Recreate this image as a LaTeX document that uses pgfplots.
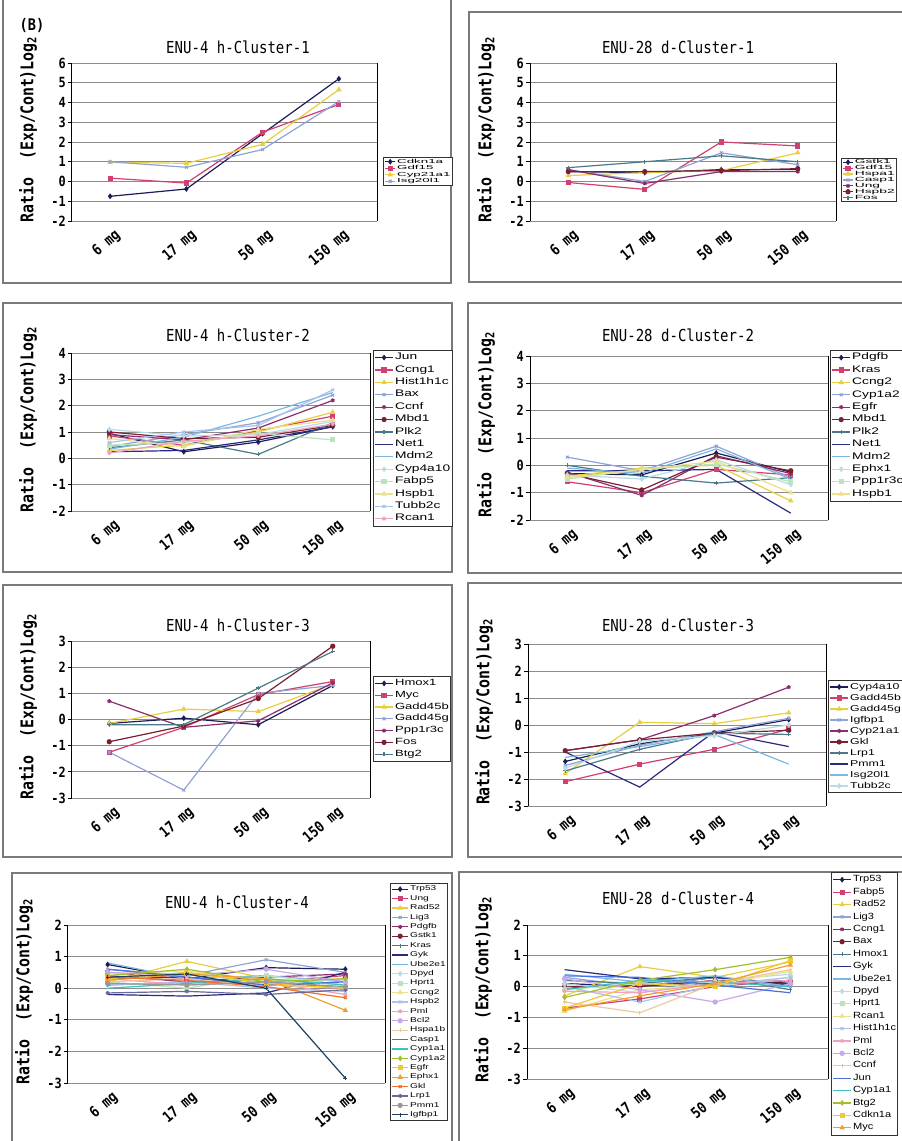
\documentclass[border=0pt]{standalone}
\usepackage{fontspec}
\setmainfont{DejaVu Sans Mono}
\newfontfamily\gf[FakeStretch=0.85]{DejaVu Sans Mono}
\newfontfamily\legA[FakeStretch=2.3]{Liberation Sans}
\newfontfamily\legB[FakeStretch=1.45]{Liberation Sans}
\newfontfamily\legC[FakeStretch=1.23]{Liberation Sans}
\usepackage{pgfplots}
\pgfplotsset{compat=1.18}

% scanned Excel 2003 series colours
\definecolor{c1}{HTML}{1C1C58}
\definecolor{c2}{HTML}{D04070}
\definecolor{c3}{HTML}{E8CF40}
\definecolor{c4}{HTML}{8FA3D6}
\definecolor{c5}{HTML}{8A2D6E}
\definecolor{c6}{HTML}{7A2030}
\definecolor{c7}{HTML}{4A7A8A}
\definecolor{c8}{HTML}{2A2A80}
\definecolor{c9}{HTML}{7AB8E0}
\definecolor{c10}{HTML}{B8DCE4}
\definecolor{c11}{HTML}{BCE4BC}
\definecolor{c12}{HTML}{EDE08A}
\definecolor{c13}{HTML}{A8C4EC}
\definecolor{c14}{HTML}{F0A0C0}
\definecolor{c15}{HTML}{C8A8EC}
\definecolor{c16}{HTML}{F0C8A0}
\definecolor{c17}{HTML}{4A70E0}
\definecolor{c18}{HTML}{40C0C0}
\definecolor{c19}{HTML}{A0C030}
\definecolor{c20}{HTML}{F0C830}
\definecolor{c21}{HTML}{F0A030}
\definecolor{c22}{HTML}{F07030}
\definecolor{c23}{HTML}{6A6A98}
\definecolor{c24}{HTML}{989898}
\definecolor{c25}{HTML}{204060}
\definecolor{gridc}{HTML}{8C8C8C}
\definecolor{framec}{HTML}{7A7A7A}

\pgfplotscreateplotcyclelist{excel}{
{c1,mark=diamond*,mark options={solid,fill=c1}},
{c2,mark=square*,mark options={solid,fill=c2}},
{c3,mark=triangle*,mark options={solid,fill=c3}},
{c4,mark=x},
{c5,mark=asterisk},
{c6,mark=*,mark options={solid,fill=c6}},
{c7,mark=+},
{c8,mark=none},
{c9,mark=none},
{c10,mark=diamond*,mark options={solid,fill=c10}},
{c11,mark=square*,mark options={solid,fill=c11}},
{c12,mark=triangle*,mark options={solid,fill=c12}},
{c13,mark=x},
{c14,mark=asterisk},
{c15,mark=*,mark options={solid,fill=c15}},
{c16,mark=+},
{c17,mark=none},
{c18,mark=none},
{c19,mark=diamond*,mark options={solid,fill=c19}},
{c20,mark=square*,mark options={solid,fill=c20}},
{c21,mark=triangle*,mark options={solid,fill=c21}},
{c22,mark=x},
{c23,mark=asterisk},
{c24,mark=*,mark options={solid,fill=c24}},
{c25,mark=+},
}

\pgfplotsset{
  limg/.style={legend image code/.code={
    \draw[mark repeat=2,mark phase=2] plot coordinates {(0pt,0pt)(#1/2,0pt)(#1,0pt)};}},
  panel/.style={
    scale only axis, anchor=south west,
    xmin=-0.5, xmax=3.5,
    xtick={0,1,2,3},
    xticklabels={6 mg,17 mg,50 mg,150 mg},
    ytick distance=1,
    ymajorgrids, grid style={draw=gridc, line width=0.8pt},
    separate axis lines,
    every outer x axis line/.append style={draw=gridc, line width=0.8pt},
    every outer y axis line/.append style={draw=black, line width=1pt},
    ytick pos=left, xtick style={draw=none},
    tick align=outside, major tick length=4pt,
    ytick style={black, line width=0.9pt},
    /pgf/number format/assume math mode=true,
    yticklabel style={font=\gf\bfseries\fontsize{14}{15}\selectfont, inner sep=2pt},
    xticklabel style={font=\gf\bfseries\fontsize{15}{16}\selectfont, rotate=40, anchor=east, yshift=-12pt, xshift=4pt},
    ylabel={Ratio\ \ (Exp/Cont)Log\textsubscript{2}},
    ylabel style={font=\gf\bfseries\fontsize{17.5}{19}\selectfont, at={(ticklabel cs:0.58)}},
    ylabel shift=9pt,
    cycle list name=excel,
    every axis plot/.append style={line width=1.2pt},
    mark size=2pt,
    legend cell align=left,
    legend style={draw=black!80, line width=0.6pt, fill=white, anchor=north west,
      inner sep=1.2pt, row sep=0pt, column sep=1pt},
  },
}

\begin{document}
\begin{tikzpicture}[x=1pt,y=1pt]
\path[use as bounding box] (0,0) rectangle (902,1141);
\clip (0,0) rectangle (902,1141);
\fill[white] (0,0) rectangle (902,1141);

% chart frames
\draw[framec, line width=1.2pt] (3,858) rectangle (451,1146);
\draw[framec, line width=1.2pt] (469,859) rectangle (906,1129);
\draw[framec, line width=1.2pt] (3,569) rectangle (452,838);
\draw[framec, line width=1.2pt] (468,568) rectangle (906,838);
\draw[framec, line width=1.2pt] (3,284) rectangle (452,556);
\draw[framec, line width=1.2pt] (468,284) rectangle (906,558);
\draw[framec, line width=1.2pt] (12,-5) rectangle (452,268);
\draw[framec, line width=1.2pt] (459,-5) rectangle (906,269);

% titles
\node[font=\gf\bfseries\fontsize{16}{18}\selectfont] at (32,1116) {(B)};
\node[font=\gf\fontsize{16.5}{18}\selectfont] at (238,1094) {ENU-4 h-Cluster-1};
\node[font=\gf\fontsize{16.5}{18}\selectfont] at (678,1094) {ENU-28 d-Cluster-1};
\node[font=\gf\fontsize{16.5}{18}\selectfont] at (238,806) {ENU-4 h-Cluster-2};
\node[font=\gf\fontsize{16.5}{18}\selectfont] at (678,806) {ENU-28 d-Cluster-2};
\node[font=\gf\fontsize{16.5}{18}\selectfont] at (238,516) {ENU-4 h-Cluster-3};
\node[font=\gf\fontsize{16.5}{18}\selectfont] at (678,516) {ENU-28 d-Cluster-3};
\node[font=\gf\fontsize{16.5}{18}\selectfont] at (237,239) {ENU-4 h-Cluster-4};
\node[font=\gf\fontsize{16.5}{18}\selectfont] at (678,243) {ENU-28 d-Cluster-4};

% ---- ENU-4 h Cluster-1
\begin{axis}[panel, at={(72pt,920pt)}, width=305pt, height=158pt, ymin=-2, ymax=6, limg=10pt,
  legend style={at={(1.02,0.405)}, font=\legA\fontsize{5.8}{6}\selectfont,
    nodes={text height=4.4pt, text depth=1.4pt, inner sep=0.35pt}}]
\addplot coordinates {(0,-0.75)(1,-0.38)(2,2.42)(3,5.2)};
\addplot coordinates {(0,0.17)(1,-0.08)(2,2.5)(3,3.9)};
\addplot coordinates {(0,0.97)(1,0.92)(2,1.88)(3,4.65)};
\addplot coordinates {(0,1.0)(1,0.72)(2,1.62)(3,4.05)};
\legend{Cdkn1a,Gdf15,Cyp21a1,Isg20l1}
\end{axis}

% ---- ENU-28 d Cluster-1
\begin{axis}[panel, at={(530pt,920pt)}, width=306pt, height=158pt, ymin=-2, ymax=6, limg=10pt,
  legend style={at={(1.016,0.40)}, font=\legA\fontsize{6}{6}\selectfont,
    nodes={text height=4.2pt, text depth=1.3pt, inner sep=0.2pt}}]
\addplot coordinates {(0,0.5)(1,0.45)(2,0.6)(3,0.6)};
\addplot coordinates {(0,-0.05)(1,-0.4)(2,2.0)(3,1.8)};
\addplot coordinates {(0,0.3)(1,0.45)(2,0.55)(3,1.45)};
\addplot coordinates {(0,0.6)(1,0.0)(2,1.45)(3,0.85)};
\addplot coordinates {(0,0.6)(1,-0.1)(2,0.5)(3,0.5)};
\addplot coordinates {(0,0.5)(1,0.5)(2,0.55)(3,0.65)};
\addplot coordinates {(0,0.7)(1,1.0)(2,1.3)(3,1.0)};
\legend{Gstk1,Gdf15,Hspa1,Casp1,Ung,Hspb2,Fos}
\end{axis}

% ---- ENU-4 h Cluster-2
\begin{axis}[panel, at={(72pt,630pt)}, width=298pt, height=158pt, ymin=-2, ymax=4, limg=18pt,
  legend style={at={(1.01,1.02)}, font=\legB\fontsize{9.5}{10}\selectfont,
    nodes={text height=8pt, text depth=3.6pt, inner sep=0.4pt}}]
\addplot coordinates {(0,0.95)(1,0.25)(2,0.62)(3,1.2)};
\addplot coordinates {(0,0.85)(1,0.5)(2,1.05)(3,1.6)};
\addplot coordinates {(0,0.3)(1,0.5)(2,1.0)(3,1.75)};
\addplot coordinates {(0,0.45)(1,0.9)(2,1.35)(3,2.4)};
\addplot coordinates {(0,0.9)(1,0.7)(2,1.15)(3,2.2)};
\addplot coordinates {(0,1.0)(1,0.75)(2,0.8)(3,1.25)};
\addplot coordinates {(0,0.4)(1,0.7)(2,0.15)(3,1.35)};
\addplot coordinates {(0,0.25)(1,0.3)(2,0.7)(3,1.2)};
\addplot coordinates {(0,0.35)(1,0.8)(2,1.6)(3,2.5)};
\addplot coordinates {(0,1.1)(1,0.85)(2,0.9)(3,1.4)};
\addplot coordinates {(0,0.5)(1,0.6)(2,0.95)(3,0.7)};
\addplot coordinates {(0,0.75)(1,0.45)(2,1.1)(3,1.45)};
\addplot coordinates {(0,0.6)(1,1.0)(2,1.25)(3,2.6)};
\addplot coordinates {(0,0.2)(1,0.65)(2,0.85)(3,1.3)};
\legend{Jun,Ccng1,Hist1h1c,Bax,Ccnf,Mbd1,Plk2,Net1,Mdm2,Cyp4a10,Fabp5,Hspb1,Tubb2c,Rcan1}
\end{axis}

% ---- ENU-28 d Cluster-2
\begin{axis}[panel, at={(530pt,621pt)}, width=298pt, height=164pt, ymin=-2, ymax=4, limg=18pt,
  legend style={at={(1.007,1.037)}, font=\legB\fontsize{9.5}{10}\selectfont,
    nodes={text height=8pt, text depth=3.6pt, inner sep=0.4pt}}]
\addplot coordinates {(0,-0.3)(1,-0.35)(2,0.45)(3,-0.25)};
\addplot coordinates {(0,-0.6)(1,-1.0)(2,-0.15)(3,-0.35)};
\addplot coordinates {(0,-0.4)(1,-0.1)(2,0.0)(3,-1.3)};
\addplot coordinates {(0,0.3)(1,-0.2)(2,0.7)(3,-0.45)};
\addplot coordinates {(0,-0.25)(1,-1.1)(2,0.35)(3,-0.3)};
\addplot coordinates {(0,-0.3)(1,-0.9)(2,0.3)(3,-0.2)};
\addplot coordinates {(0,0.0)(1,-0.4)(2,-0.65)(3,-0.45)};
\addplot coordinates {(0,-0.2)(1,-0.2)(2,-0.15)(3,-1.75)};
\addplot coordinates {(0,-0.1)(1,-0.3)(2,0.6)(3,-0.5)};
\addplot coordinates {(0,-0.35)(1,-0.5)(2,0.2)(3,-0.7)};
\addplot coordinates {(0,-0.5)(1,-0.15)(2,0.05)(3,-0.6)};
\addplot coordinates {(0,-0.45)(1,-0.15)(2,0.15)(3,-1.0)};
\legend{Pdgfb,Kras,Ccng2,Cyp1a2,Egfr,Mbd1,Plk2,Net1,Mdm2,Ephx1,Ppp1r3c,Hspb1}
\end{axis}

% ---- ENU-4 h Cluster-3
\begin{axis}[panel, at={(72pt,343pt)}, width=298pt, height=157pt, ymin=-3, ymax=3, limg=18pt,
  legend style={at={(1.01,0.777)}, font=\legB\fontsize{9}{10}\selectfont,
    nodes={text height=7.6pt, text depth=3.4pt, inner sep=0.4pt}}]
\addplot coordinates {(0,-0.15)(1,0.05)(2,-0.2)(3,1.3)};
\addplot coordinates {(0,-1.25)(1,-0.3)(2,0.95)(3,1.45)};
\addplot coordinates {(0,-0.15)(1,0.4)(2,0.3)(3,1.35)};
\addplot coordinates {(0,-1.25)(1,-2.7)(2,1.0)(3,1.3)};
\addplot coordinates {(0,0.7)(1,-0.3)(2,-0.05)(3,1.4)};
\addplot coordinates {(0,-0.85)(1,-0.25)(2,0.8)(3,2.8)};
\addplot coordinates {(0,-0.2)(1,-0.2)(2,1.2)(3,2.6)};
\legend{Hmox1,Myc,Gadd45b,Gadd45g,Ppp1r3c,Fos,Btg2}
\end{axis}

% ---- ENU-28 d Cluster-3
\begin{axis}[panel, at={(528pt,335pt)}, width=298pt, height=162pt, ymin=-3, ymax=3, limg=18pt,
  legend style={at={(1.007,0.778)}, font=\legB\fontsize{8.5}{9}\selectfont,
    nodes={text height=7.2pt, text depth=3pt, inner sep=0.4pt}}]
\addplot coordinates {(0,-1.35)(1,-0.7)(2,-0.3)(3,0.2)};
\addplot coordinates {(0,-2.1)(1,-1.45)(2,-0.9)(3,-0.15)};
\addplot coordinates {(0,-1.8)(1,0.1)(2,0.05)(3,0.45)};
\addplot coordinates {(0,-1.5)(1,-0.75)(2,-0.25)(3,0.25)};
\addplot coordinates {(0,-0.95)(1,-0.55)(2,0.35)(3,1.4)};
\addplot coordinates {(0,-0.95)(1,-0.55)(2,-0.3)(3,-0.2)};
\addplot coordinates {(0,-1.7)(1,-0.9)(2,-0.3)(3,-0.35)};
\addplot coordinates {(0,-1.0)(1,-2.3)(2,-0.25)(3,-0.8)};
\addplot coordinates {(0,-1.2)(1,-0.8)(2,-0.35)(3,-1.45)};
\addplot coordinates {(0,-1.6)(1,-0.6)(2,-0.4)(3,0.0)};
\legend{Cyp4a10,Gadd45b,Gadd45g,Igfbp1,Cyp21a1,Gkl,Lrp1,Pmm1,Isg20l1,Tubb2c}
\end{axis}

% ---- ENU-4 h Cluster-4
\begin{axis}[panel, at={(68pt,58pt)}, width=317pt, height=158pt, ymin=-3, ymax=2, limg=16pt,
  legend style={at={(1.016,1.266)}, font=\legB\fontsize{7}{8}\selectfont,
    nodes={text height=6pt, text depth=2.6pt, inner sep=0.4pt}}]
\addplot coordinates {(0,0.75)(1,0.3)(2,0.65)(3,0.6)};
\addplot coordinates {(0,0.5)(1,0.3)(2,0.2)(3,0.4)};
\addplot coordinates {(0,0.2)(1,0.85)(2,0.3)(3,0.1)};
\addplot coordinates {(0,0.6)(1,0.4)(2,0.9)(3,0.5)};
\addplot coordinates {(0,0.4)(1,0.2)(2,0.35)(3,0.45)};
\addplot coordinates {(0,0.3)(1,0.35)(2,0.1)(3,0.3)};
\addplot coordinates {(0,0.1)(1,0.2)(2,0.2)(3,0.0)};
\addplot coordinates {(0,-0.2)(1,-0.25)(2,-0.15)(3,0.5)};
\addplot coordinates {(0,0.8)(1,0.3)(2,0.4)(3,0.2)};
\addplot coordinates {(0,0.3)(1,0.5)(2,0.1)(3,0.3)};
\addplot coordinates {(0,0.2)(1,0.0)(2,0.4)(3,0.1)};
\addplot coordinates {(0,0.45)(1,0.55)(2,0.25)(3,0.3)};
\addplot coordinates {(0,0.1)(1,0.2)(2,0.0)(3,-0.1)};
\addplot coordinates {(0,0.3)(1,0.1)(2,0.2)(3,-0.2)};
\addplot coordinates {(0,0.5)(1,0.4)(2,0.6)(3,0.2)};
\addplot coordinates {(0,0.2)(1,0.3)(2,0.1)(3,0.0)};
\addplot coordinates {(0,0.6)(1,0.35)(2,0.1)(3,0.2)};
\addplot coordinates {(0,0.0)(1,0.15)(2,0.3)(3,0.1)};
\addplot coordinates {(0,0.4)(1,0.6)(2,0.2)(3,0.3)};
\addplot coordinates {(0,0.3)(1,0.5)(2,0.15)(3,0.0)};
\addplot coordinates {(0,0.25)(1,0.45)(2,0.3)(3,-0.7)};
\addplot coordinates {(0,0.35)(1,0.25)(2,0.05)(3,-0.3)};
\addplot coordinates {(0,-0.15)(1,-0.1)(2,-0.2)(3,-0.05)};
\addplot coordinates {(0,0.15)(1,0.1)(2,0.2)(3,0.05)};
\addplot coordinates {(0,0.35)(1,0.45)(2,0.0)(3,-2.85)};
\legend{Trp53,Ung,Rad52,Lig3,Pdgfb,Gstk1,Kras,Gyk,Ube2e1,Dpyd,Hprt1,Ccng2,Hspb2,Pml,Bcl2,Hspa1b,Casp1,Cyp1a1,Cyp1a2,Egfr,Ephx1,Gkl,Lrp1,Pmm1,Igfbp1}
\end{axis}

% ---- ENU-28 d Cluster-4
\begin{axis}[panel, at={(527pt,62pt)}, width=301pt, height=154pt, ymin=-3, ymax=2, limg=18pt,
  legend style={at={(1.01,1.344)}, font=\legC\fontsize{9}{10}\selectfont,
    nodes={text height=8pt, text depth=3.6pt, inner sep=0.4pt}}]
\addplot coordinates {(0,0.1)(1,0.0)(2,0.3)(3,0.1)};
\addplot coordinates {(0,-0.7)(1,-0.4)(2,0.0)(3,0.2)};
\addplot coordinates {(0,-0.3)(1,0.65)(2,0.3)(3,0.8)};
\addplot coordinates {(0,0.3)(1,0.0)(2,0.3)(3,0.0)};
\addplot coordinates {(0,-0.05)(1,0.05)(2,0.1)(3,0.2)};
\addplot coordinates {(0,0.0)(1,0.0)(2,0.2)(3,0.1)};
\addplot coordinates {(0,0.2)(1,0.1)(2,0.3)(3,-0.1)};
\addplot coordinates {(0,0.55)(1,0.25)(2,0.3)(3,0.05)};
\addplot coordinates {(0,0.4)(1,0.15)(2,0.35)(3,0.0)};
\addplot coordinates {(0,0.1)(1,-0.2)(2,0.2)(3,0.4)};
\addplot coordinates {(0,-0.1)(1,0.1)(2,0.0)(3,0.3)};
\addplot coordinates {(0,-0.8)(1,-0.1)(2,0.05)(3,0.5)};
\addplot coordinates {(0,0.0)(1,-0.5)(2,0.05)(3,0.3)};
\addplot coordinates {(0,-0.15)(1,-0.2)(2,0.1)(3,0.2)};
\addplot coordinates {(0,0.25)(1,-0.1)(2,-0.5)(3,0.1)};
\addplot coordinates {(0,-0.5)(1,-0.85)(2,0.1)(3,0.55)};
\addplot coordinates {(0,0.35)(1,0.3)(2,0.05)(3,-0.2)};
\addplot coordinates {(0,-0.1)(1,0.2)(2,0.15)(3,0.0)};
\addplot coordinates {(0,-0.35)(1,0.2)(2,0.55)(3,0.95)};
\addplot coordinates {(0,-0.7)(1,0.1)(2,0.0)(3,0.85)};
\addplot coordinates {(0,-0.75)(1,-0.3)(2,0.1)(3,0.7)};
\legend{Trp53,Fabp5,Rad52,Lig3,Ccng1,Bax,Hmox1,Gyk,Ube2e1,Dpyd,Hprt1,Rcan1,Hist1h1c,Pml,Bcl2,Ccnf,Jun,Cyp1a1,Btg2,Cdkn1a,Myc}
\end{axis}
\end{tikzpicture}
\end{document}
